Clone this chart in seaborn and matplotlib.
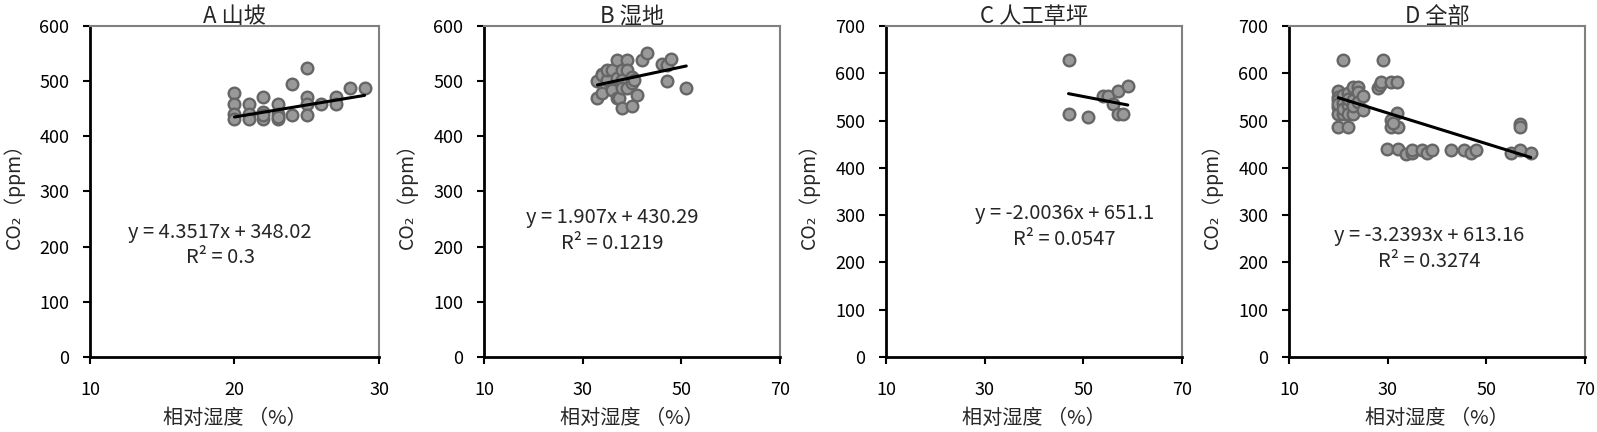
import numpy as np
import pandas as pd
import matplotlib
matplotlib.use("Agg")
import matplotlib.pyplot as plt
import seaborn as sns

sns.set_style("white")
plt.rcParams['font.family'] = ['Noto Sans CJK SC', 'DejaVu Sans']

# panel A 山坡
a_x = [20, 20, 20, 20, 21, 21, 21, 22, 22, 22, 22, 23, 23, 23, 23, 24, 24, 25, 25, 25, 25, 26, 27, 27, 28, 29]
a_y = [479, 458, 441, 432, 458, 441, 432, 471, 444, 432, 438, 458, 441, 432, 435, 494, 438, 524, 471, 459, 438, 458, 471, 458, 488, 488]

# panel B 湿地
b_x = [33, 33, 34, 34, 34, 35, 35, 36, 36, 36, 37, 37, 37, 37.4, 38, 38, 38, 38, 39, 39, 39, 40, 40, 40, 40.5, 41, 42, 43, 46, 47, 47, 48, 51]
b_y = [500, 470, 513, 478, 511, 502, 520, 520, 485, 484, 539, 470, 505, 469, 520, 502, 452, 487, 539, 487, 520, 508, 496, 455, 502, 475, 539, 551, 532, 529, 500, 541, 488]

# panel C 人工草坪
c_x = [47, 47, 51, 54, 55, 56, 57, 59, 57, 58]
c_y = [629, 514, 508, 553, 553, 535, 563, 573, 514, 514]

# panel D 全部
d_x = [21, 29, 20, 20, 20, 20, 20, 20, 20, 21, 21, 21, 21, 22, 22, 22, 22, 22, 23, 23, 23, 23, 24, 24, 24, 25, 25,
       28, 28.4, 28.7, 30.7, 31.8, 31.8, 30.7, 30.7, 32, 31, 29.9, 32, 33.8, 35, 35, 37, 38, 39, 42.8, 45.5, 46.9,
       47.9, 55, 56.8, 56.8, 56.8, 59]
d_y = [629, 629, 563, 550, 544, 528, 514, 486, 535, 554, 537, 514, 525, 558, 533, 514, 486, 545, 572, 544, 514, 530,
       572, 561, 540, 551, 522, 568, 575, 582, 581, 581, 515, 501, 486, 486, 495, 439, 439, 430, 431, 438, 438, 431,
       438, 438, 438, 431, 438, 431, 438, 493, 487, 431]

titles = ["A 山坡", "B 湿地", "C 人工草坪", "D 全部"]
slopes = [4.3517, 1.907, -2.0036, -3.2393]
intercepts = [348.02, 430.29, 651.1, 613.16]
eq_texts = ["y = 4.3517x + 348.02\nR² = 0.3",
            "y = 1.907x + 430.29\nR² = 0.1219",
            "y = -2.0036x + 651.1\nR² = 0.0547",
            "y = -3.2393x + 613.16\nR² = 0.3274"]
eq_pos = [(19.0, 203), (35.9, 229), (46.2, 276), (38.4, 229)]
x_ticks = [[10, 20, 30], [10, 30, 50, 70], [10, 30, 50, 70], [10, 30, 50, 70]]
y_max = [600, 600, 700, 700]

xs = [a_x, b_x, c_x, d_x]
ys = [a_y, b_y, c_y, d_y]

fig = plt.figure(figsize=(15.97, 4.32), dpi=100)
lefts = [90, 484, 886, 1289]
widths = [289, 296, 296, 296]

for i in range(4):
    ax = fig.add_axes([lefts[i] / 1597, 75 / 432, widths[i] / 1597, 331 / 432])
    df = pd.DataFrame({'x': xs[i], 'y': ys[i]})
    sns.scatterplot(data=df, x='x', y='y', ax=ax, s=70, color='#999999',
                    edgecolor='#666666', linewidth=1.7, zorder=3)
    lx = np.array([min(xs[i]), max(xs[i])])
    line = pd.DataFrame({'x': lx, 'y': slopes[i] * lx + intercepts[i]})
    sns.lineplot(data=line, x='x', y='y', ax=ax, color='black', linewidth=2.2, zorder=4)

    ax.set_xlim(x_ticks[i][0], x_ticks[i][-1])
    ax.set_ylim(0, y_max[i])
    ax.set_xticks(x_ticks[i])
    ax.set_yticks(range(0, y_max[i] + 1, 100))
    ax.tick_params(axis='both', direction='out', length=5, width=1.5, colors='black',
                   labelsize=13, left=True, bottom=True)
    ax.tick_params(axis='x', pad=12)
    ax.tick_params(axis='y', pad=10)

    for s in ['left', 'bottom']:
        ax.spines[s].set_color('black')
        ax.spines[s].set_linewidth(2)
    for s in ['top', 'right']:
        ax.spines[s].set_color('#808080')
        ax.spines[s].set_linewidth(1.5)

    ax.set_title(titles[i], fontsize=16, pad=2)
    ax.set_xlabel("相对湿度 （%）", fontsize=14.5)
    ax.set_ylabel("CO₂（ppm）", fontsize=14)
    ax.yaxis.set_label_coords(-0.225, 0.5)
    ax.xaxis.set_label_coords(0.5, -0.155)

    ax.text(eq_pos[i][0], eq_pos[i][1], eq_texts[i], ha='center', va='center',
            fontsize=14.5, linespacing=1.3, multialignment='center')

plt.savefig('out.png', dpi=100)
